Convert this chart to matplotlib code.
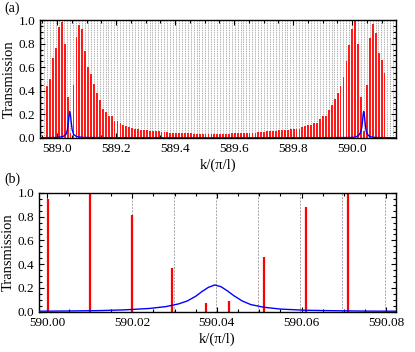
import numpy as np
import matplotlib
matplotlib.use("Agg")
import matplotlib.pyplot as plt
from matplotlib.ticker import MultipleLocator, FormatStrFormatter

plt.rcParams['font.family'] = ['Liberation Serif', 'DejaVu Serif']

# ---- panel (a): peak transmission of every resonance ----
k0_a = 588.966      # first resonance in view
dk = 0.00995        # resonance spacing
peak_t_a = [0.44, 0.50, 0.68, 0.76, 0.94, 0.98, 0.80, 0.35,
            0.04,
            0.45, 0.86, 0.96, 0.92, 0.74, 0.60, 0.54, 0.46, 0.38, 0.32, 0.25,
            0.22, 0.19, 0.19, 0.14, 0.14, 0.125,
            0.11, 0.10, 0.095, 0.085, 0.08, 0.075, 0.07, 0.07, 0.065, 0.06,
            0.06, 0.055, 0.055, 0.05, 0.05, 0.05, 0.045, 0.045, 0.045, 0.04,
            0.04, 0.04, 0.04, 0.04, 0.035, 0.035, 0.035, 0.035, 0.035, 0.035,
            0.035, 0.035, 0.035, 0.035, 0.035, 0.035, 0.035, 0.04, 0.04, 0.04,
            0.04, 0.04, 0.04, 0.045, 0.045, 0.045, 0.05, 0.05, 0.05, 0.055,
            0.055, 0.06, 0.06, 0.065, 0.065, 0.07, 0.07, 0.075, 0.075,
            0.08, 0.08, 0.095, 0.10, 0.11, 0.11, 0.125, 0.13, 0.16, 0.19,
            0.19, 0.24, 0.28, 0.33,
            0.38, 0.44, 0.52, 0.65, 0.79, 0.92, 0.99, 0.80, 0.35,
            0.06,
            0.45, 0.85, 0.97, 0.89, 0.72, 0.66, 0.55]
peak_k_a = k0_a + dk * np.arange(len(peak_t_a))

# single-resonator (blue) curve, first peak region of panel (a)
blue_k_a = [588.942, 589.0, 589.02, 589.03, 589.035, 589.038, 589.0405, 589.043,
            589.0455, 589.048, 589.051, 589.056, 589.066, 589.09, 589.2, 589.5,
            589.9, 589.99]
blue_t_a = [0.002, 0.004, 0.012, 0.03, 0.07, 0.13, 0.19, 0.225,
            0.19, 0.13, 0.07, 0.03, 0.012, 0.004, 0.002, 0.001,
            0.002, 0.004]

# ---- panel (b): zoom near 590.04 ----
peak_k_b = [590.0002, 590.0100, 590.0199, 590.0294, 590.0374, 590.0428,
            590.0512, 590.0610, 590.0709]
peak_t_b = [0.95, 1.00, 0.81, 0.37, 0.07, 0.09, 0.46, 0.88, 1.00]

blue_k_b = [589.998, 590.005, 590.012, 590.018, 590.024, 590.028, 590.031,
            590.033, 590.035, 590.0365, 590.038, 590.0395, 590.041, 590.0425,
            590.044, 590.046, 590.048, 590.051, 590.055, 590.061, 590.068,
            590.075, 590.0825]
blue_t_b = [0.004, 0.006, 0.009, 0.015, 0.027, 0.043, 0.066, 0.09, 0.13, 0.17,
            0.205, 0.225, 0.21, 0.175, 0.135, 0.09, 0.06, 0.038, 0.022, 0.012,
            0.008, 0.005, 0.004]

blue_k_tail = [590.1, 590.149]
blue_t_tail = [0.003, 0.002]

# unperturbed resonance positions (grey dashed lines)
grid_start = 590.0
grid_lines = grid_start + dk * np.arange(-106, 16)

fig = plt.figure(figsize=(4.15, 3.52), dpi=100)
ax1 = fig.add_axes([0.0964, 0.608, 0.8578, 0.335])
ax2 = fig.add_axes([0.0940, 0.1145, 0.8602, 0.3375])


def style(ax):
    ax.tick_params(which='both', direction='in', top=True, right=True,
                   labelsize=9.5, width=0.8)
    ax.tick_params(which='major', length=3.5)
    ax.tick_params(which='minor', length=2)
    for s in ax.spines.values():
        s.set_linewidth(1.0)
    ax.set_ylim(0, 1.0)
    ax.yaxis.set_major_locator(MultipleLocator(0.2))
    ax.yaxis.set_minor_locator(MultipleLocator(0.05))
    ax.yaxis.set_major_formatter(FormatStrFormatter('%.1f'))
    ax.set_ylabel('Transmission', fontsize=10.5, labelpad=2)
    ax.set_xlabel('k/(\u03c0/l)', fontsize=10.5, labelpad=3)


# panel (a)
for g in grid_lines:
    ax1.axvline(g, color='#a0a0a0', lw=0.6, ls=(0, (1.6, 1.2)), zorder=1)
ax1.bar(peak_k_a, peak_t_a, width=0.0062, color='#ff1a1a', edgecolor='none',
        zorder=2)
ax1.plot(blue_k_a + blue_k_b + blue_k_tail, blue_t_a + blue_t_b + blue_t_tail,
         color='#0000ff', lw=1.0, zorder=3)
ax1.set_xlim(588.942, 590.149)
ax1.xaxis.set_major_locator(MultipleLocator(0.2))
ax1.xaxis.set_minor_locator(MultipleLocator(0.05))
ax1.xaxis.set_major_formatter(FormatStrFormatter('%.1f'))
style(ax1)

# panel (b)
for g in grid_start + dk * np.arange(0, 9):
    ax2.axvline(g, color='#999999', lw=0.6, ls=(0, (2.5, 1.5)), zorder=1)
ax2.vlines(peak_k_b, 0, peak_t_b, color='#ff0000', lw=1.6, zorder=2)
ax2.plot(blue_k_b, blue_t_b, color='#0000ff', lw=1.0, zorder=3)
ax2.set_xlim(589.998, 590.0823)
ax2.xaxis.set_major_locator(MultipleLocator(0.02))
ax2.xaxis.set_minor_locator(MultipleLocator(0.005))
ax2.xaxis.set_major_formatter(FormatStrFormatter('%.2f'))
style(ax2)

fig.text(0.01, 0.977, '(a)', fontsize=10, va='center', ha='left')
fig.text(0.01, 0.49, '(b)', fontsize=10, va='center', ha='left')

fig.savefig('out.png', dpi=100)
